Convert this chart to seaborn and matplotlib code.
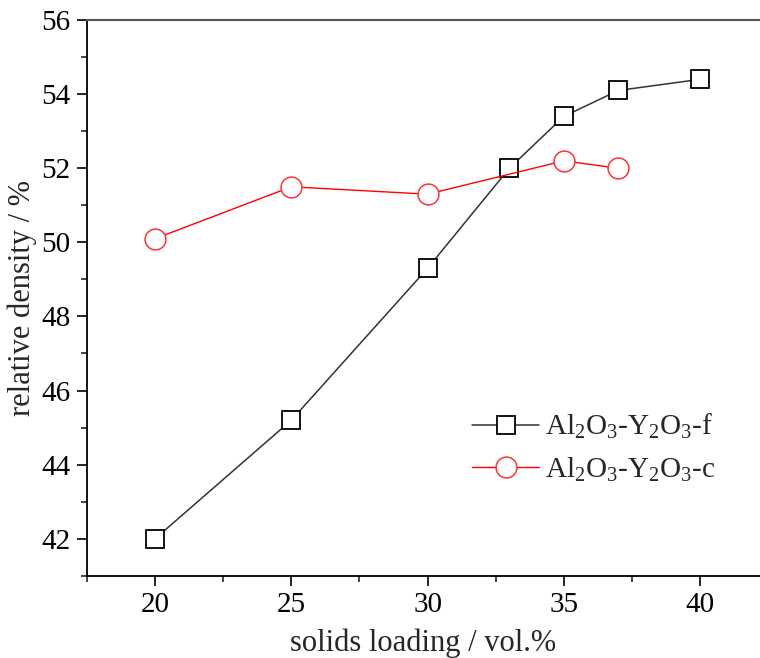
import matplotlib
matplotlib.use('Agg')
import matplotlib.pyplot as plt
from matplotlib.ticker import MultipleLocator
import pandas as pd
import seaborn as sns

# solids loading (vol.%) and relative density (%)
loading_f = [20, 25, 30, 33, 35, 37, 40]
density_f = [42.0, 45.2, 49.3, 52.0, 53.4, 54.1, 54.4]
loading_c = [20, 25, 30, 35, 37]
density_c = [50.1, 51.5, 51.3, 52.2, 52.0]

label_f = r'Al$_2$O$_3$-Y$_2$O$_3$-f'
label_c = r'Al$_2$O$_3$-Y$_2$O$_3$-c'

sns.set_style('ticks')
plt.rcParams['font.family'] = ['Liberation Serif', 'DejaVu Serif']
plt.rcParams['mathtext.fontset'] = 'custom'
plt.rcParams['mathtext.rm'] = 'Liberation Serif'
plt.rcParams['mathtext.default'] = 'regular'

df_f = pd.DataFrame({'x': loading_f, 'y': density_f})
df_c = pd.DataFrame({'x': loading_c, 'y': density_c})

fig = plt.figure(figsize=(7.6, 6.58), dpi=100)
ax = fig.add_axes([0.1145, 0.125, 0.8855, 0.8445])

sns.lineplot(data=df_f, x='x', y='y', ax=ax, color='#333333', linewidth=1.1,
             marker='s', markersize=13, markerfacecolor='white',
             markeredgecolor='black', markeredgewidth=1.3, label=label_f)
sns.lineplot(data=df_c, x='x', y='y', ax=ax, color='#ff0000', linewidth=1.0,
             marker='o', markersize=15, markerfacecolor='white',
             markeredgecolor='#ff3333', markeredgewidth=1.1, label=label_c)

ax.set_xlim(17.5, 42.2)
ax.set_ylim(41, 56)
ax.xaxis.set_major_locator(MultipleLocator(5))
ax.xaxis.set_minor_locator(MultipleLocator(2.5))
ax.yaxis.set_major_locator(MultipleLocator(2))
ax.yaxis.set_minor_locator(MultipleLocator(1))
ax.tick_params(which='major', length=7, width=1.2, labelsize=21, pad=5, colors='black')
ax.tick_params(which='minor', length=4, width=1.2)

ax.spines['right'].set_visible(False)
ax.spines['top'].set_color('#555555')
ax.spines['top'].set_linewidth(1.5)
for s in ['left', 'bottom']:
    ax.spines[s].set_linewidth(1.3)
    ax.spines[s].set_color('black')

ax.set_xlabel('solids loading / vol.%', fontsize=22, labelpad=7)
ax.set_ylabel('relative density / %', fontsize=22, labelpad=3)

ax.legend(loc='upper left', bbox_to_anchor=(0.572, 0.295), frameon=False,
          fontsize=21, handlelength=2.3, handletextpad=0.2, labelspacing=0.5,
          borderaxespad=0, borderpad=0)

fig.savefig('out.png', dpi=100)
